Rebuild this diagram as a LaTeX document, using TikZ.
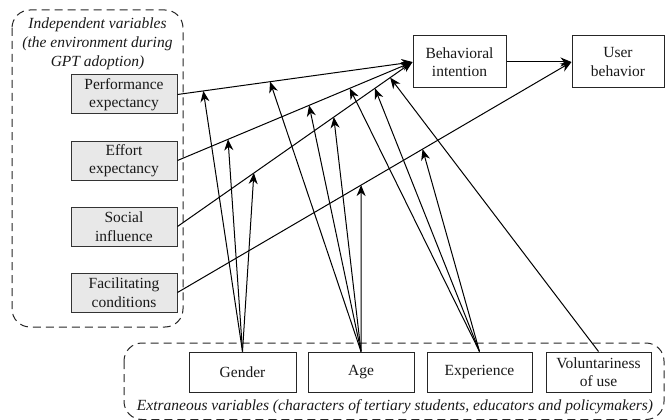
\documentclass[tikz,border=0pt]{standalone}
\usepackage{fontspec}
\setmainfont{Liberation Serif}
\usetikzlibrary{arrows.meta}
\begin{document}
\begin{tikzpicture}[x=1pt,y=-1pt,
  every node/.style={font=\fontsize{15.5}{18.5}\selectfont, text=black!90},
  gbox/.style={draw=black!80, line width=1pt, fill=black!9, rectangle, inner sep=0pt,
    minimum width=106pt, minimum height=39pt, align=center},
  wbox/.style={draw=black!85, line width=1pt, fill=white, rectangle, inner sep=0pt,
    minimum height=40pt, align=center},
  dbox/.style={draw=black!85, line width=1pt, dash pattern=on 8pt off 5pt, rounded corners=18pt},
  link/.style={draw=black, line width=1pt},
  arr/.style={link, -{Stealth[length=11pt,width=9pt,inset=3.5pt]}},
  lab/.style={font=\fontsize{15.5}{19}\selectfont\itshape, align=center, inner sep=0pt}
]
\useasboundingbox (0,0) rectangle (670,420);

% group frames
\draw[dbox] (12,10) rectangle (183,327);
\draw[dbox] (124,343) rectangle (664,419.5);
\node[lab] (indlab) at (97.5,44) {Independent variables\\(the environment during\\GPT adoption)};
\node[lab] (extlab) at (395,407) {Extraneous variables (characters of tertiary students, educators and policymakers)};

% independent variables
\node[gbox] (PE) at (124,94.5) {Performance\\expectancy};
\node[gbox] (EE) at (124,160.5) {Effort\\expectancy};
\node[gbox] (SI) at (124,226.5) {Social\\influence};
\node[gbox] (FC) at (124,292.5) {Facilitating\\conditions};

% outcomes
\node[wbox, minimum width=93pt, minimum height=52pt] (BI) at (459.5,62) {Behavioral\\intention};
\node[wbox, minimum width=92pt, minimum height=52pt] (UB) at (618,62) {User\\behavior};

% moderators
\node[wbox, minimum width=107pt] (G) at (242.5,372) {Gender};
\node[wbox, minimum width=106pt] (A) at (361,372) {Age};
\node[wbox, minimum width=105pt] (X) at (479.5,372) {Experience};
\node[wbox, minimum width=105pt] (V) at (598.5,372) {Voluntariness\\of use};

% main paths
\draw[arr] (PE.east) -- (BI.west);
\draw[arr] (EE.east) -- (BI.west);
\draw[arr] (SI.east) -- (BI.west);
\draw[arr] (FC.east) -- (UB.west);
\draw[arr] (BI.east) -- (UB.west);

% points on the paths
\path (PE.east) -- (BI.west) coordinate[pos=0.11] (pe1) coordinate[pos=0.394] (pe2);
\path (EE.east) -- (BI.west) coordinate[pos=0.215] (ee1) coordinate[pos=0.56] (ee2) coordinate[pos=0.733] (ee3);
\path (SI.east) -- (BI.west) coordinate[pos=0.325] (si1) coordinate[pos=0.665] (si2) coordinate[pos=0.84] (si3) coordinate[pos=0.905] (si4);
\path (FC.east) -- (UB.west) coordinate[pos=0.466] (fc1) coordinate[pos=0.622] (fc2);

% moderating effects
\draw[arr] (G.north) -- (pe1);
\draw[arr] (G.north) -- (ee1);
\draw[arr] (G.north) -- (si1);
\draw[arr] (A.north) -- (pe2);
\draw[arr] (A.north) -- (ee2);
\draw[arr] (A.north) -- (si2);
\draw[arr] (A.north) -- (fc1);
\draw[arr] (X.north) -- (ee3);
\draw[arr] (X.north) -- (si3);
\draw[arr] (X.north) -- (fc2);
\draw[arr] (V.north) -- (si4);
\end{tikzpicture}
\end{document}
